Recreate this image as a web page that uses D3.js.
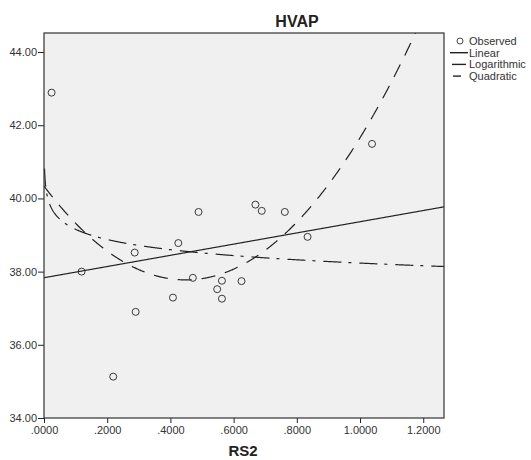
<!DOCTYPE html>
<html>
<head>
<meta charset="utf-8">
<script src="https://cdn.jsdelivr.net/npm/d3@7/dist/d3.min.js"></script>
<style>
  html, body { margin: 0; padding: 0; background: #fff; }
  svg { display: block; font-family: Arial, "Liberation Sans", sans-serif; }
</style>
</head>
<body>
<svg id="chart" width="531" height="460"></svg>
<script>
// Observed values: RS2 (x) against HVAP (y)
const rs2  = [0.024, 0.119, 0.219, 0.287, 0.290, 0.408, 0.425, 0.471, 0.489,
              0.548, 0.563, 0.563, 0.625, 0.669, 0.689, 0.762, 0.834, 1.038];
const hvap = [42.89, 38.00, 35.13, 38.52, 36.90, 37.29, 38.78, 37.83, 39.63,
              37.52, 37.75, 37.26, 37.74, 39.83, 39.66, 39.63, 38.95, 41.49];

const xTicks = [0, 0.2, 0.4, 0.6, 0.8, 1.0, 1.2];
const yTicks = [34, 36, 38, 40, 42, 44];
const legendItems = ["Observed", "Linear", "Logarithmic", "Quadratic"];

// Least-squares solver for small normal-equation systems
function solve(A, b) {
  const n = b.length, M = A.map((r, i) => r.concat([b[i]]));
  for (let c = 0; c < n; c++) {
    let p = c;
    for (let r = c + 1; r < n; r++) if (Math.abs(M[r][c]) > Math.abs(M[p][c])) p = r;
    [M[c], M[p]] = [M[p], M[c]];
    for (let r = 0; r < n; r++) {
      if (r === c) continue;
      const f = M[r][c] / M[c][c];
      for (let k = c; k <= n; k++) M[r][k] -= f * M[c][k];
    }
  }
  return M.map((r, i) => r[n] / r[i]);
}
function fitBasis(basis) {
  const k = basis.length;
  const A = d3.range(k).map(() => new Array(k).fill(0));
  const b = new Array(k).fill(0);
  rs2.forEach((x, i) => {
    const f = basis.map(g => g(x));
    for (let r = 0; r < k; r++) {
      b[r] += f[r] * hvap[i];
      for (let c = 0; c < k; c++) A[r][c] += f[r] * f[c];
    }
  });
  const coef = solve(A, b);
  return x => basis.reduce((s, g, j) => s + coef[j] * g(x), 0);
}
const linear = fitBasis([x => 1, x => x]);
const logarithmic = fitBasis([x => 1, x => Math.log(x)]);
const quadratic = fitBasis([x => 1, x => x, x => x * x]);

const svg = d3.select("#chart");
const plot = { left: 44, top: 33, right: 444, bottom: 418 };

const x = d3.scaleLinear().domain([0, 1.2657]).range([plot.left, plot.right]);
const y = d3.scaleLinear().domain([34, 44.52]).range([plot.bottom, plot.top]);

svg.append("rect")
  .attr("x", plot.left).attr("y", plot.top)
  .attr("width", plot.right - plot.left).attr("height", plot.bottom - plot.top)
  .attr("fill", "#f0f0f0");

svg.append("defs").append("clipPath").attr("id", "clip")
  .append("rect")
  .attr("x", plot.left).attr("y", plot.top)
  .attr("width", plot.right - plot.left).attr("height", plot.bottom - plot.top);

// Axes
const yAxis = d3.axisLeft(y).tickValues(yTicks).tickFormat(d3.format(".2f"))
  .tickSize(6).tickPadding(1);
const xAxis = d3.axisBottom(x).tickValues(xTicks)
  .tickFormat(d => d3.format(".4f")(d).replace(/^0(?=\.)/, ""))
  .tickSize(5).tickPadding(3);

const gy = svg.append("g").attr("transform", `translate(${plot.left},0)`).call(yAxis);
const gx = svg.append("g").attr("transform", `translate(0,${plot.bottom})`).call(xAxis);
[gx, gy].forEach(g => {
  g.select(".domain").remove();
  g.selectAll("line").attr("stroke", "#222");
  g.selectAll("text").attr("fill", "#333").style("font-size", "11px")
    .style("font-family", "Arial, 'Liberation Sans', sans-serif");
});

// Fitted curves
const curves = svg.append("g").attr("clip-path", "url(#clip)");
const xMax = x.domain()[1];
const grid = d3.range(0, 801).map(i => xMax * i / 800);
const line = f => d3.line().x(d => x(d)).y(d => y(f(d)));

curves.append("path").datum(grid)
  .attr("d", line(linear))
  .attr("fill", "none").attr("stroke", "#222").attr("stroke-width", 1.2);

curves.append("path").datum(grid.filter(d => d > 0).map(d => Math.max(d, 0.0012)))
  .attr("d", line(logarithmic))
  .attr("fill", "none").attr("stroke", "#222").attr("stroke-width", 1.2)
  .attr("stroke-dasharray", "18,7,3,8");

curves.append("path").datum(grid)
  .attr("d", line(quadratic))
  .attr("fill", "none").attr("stroke", "#222").attr("stroke-width", 1.2)
  .attr("stroke-dasharray", "14,10");

// Observed points
svg.append("g").selectAll("circle").data(rs2).join("circle")
  .attr("cx", d => x(d)).attr("cy", (d, i) => y(hvap[i]))
  .attr("r", 3.5).attr("fill", "none").attr("stroke", "#3a3a3a").attr("stroke-width", 1);

// Plot frame
svg.append("rect")
  .attr("x", plot.left).attr("y", plot.top)
  .attr("width", plot.right - plot.left).attr("height", plot.bottom - plot.top)
  .attr("fill", "none").attr("stroke", "#333").attr("stroke-width", 1.2);

// Titles
svg.append("text").attr("x", 297).attr("y", 27).attr("text-anchor", "middle")
  .style("font-size", "16px").style("font-weight", "bold").attr("fill", "#222").text("HVAP");
svg.append("text").attr("x", 243).attr("y", 456).attr("text-anchor", "middle")
  .style("font-size", "15px").style("font-weight", "bold").attr("fill", "#222").text("RS2");

// Legend
const lg = svg.append("g").attr("transform", "translate(450,41)");
legendItems.forEach((name, i) => {
  const row = lg.append("g").attr("transform", `translate(0,${i * 11.7})`);
  if (i === 0) {
    row.append("circle").attr("cx", 10).attr("cy", 0).attr("r", 3)
      .attr("fill", "none").attr("stroke", "#444");
  } else {
    const seg = i === 1 ? [0, 18] : i === 2 ? [2, 16] : [3, 11];
    row.append("line").attr("x1", seg[0]).attr("x2", seg[1]).attr("y1", 0).attr("y2", 0)
      .attr("stroke", "#222").attr("stroke-width", 1.4);
  }
  row.append("text").attr("x", 19).attr("y", 4).style("font-size", "11px")
    .attr("fill", "#333").text(name);
});
</script>
</body>
</html>
